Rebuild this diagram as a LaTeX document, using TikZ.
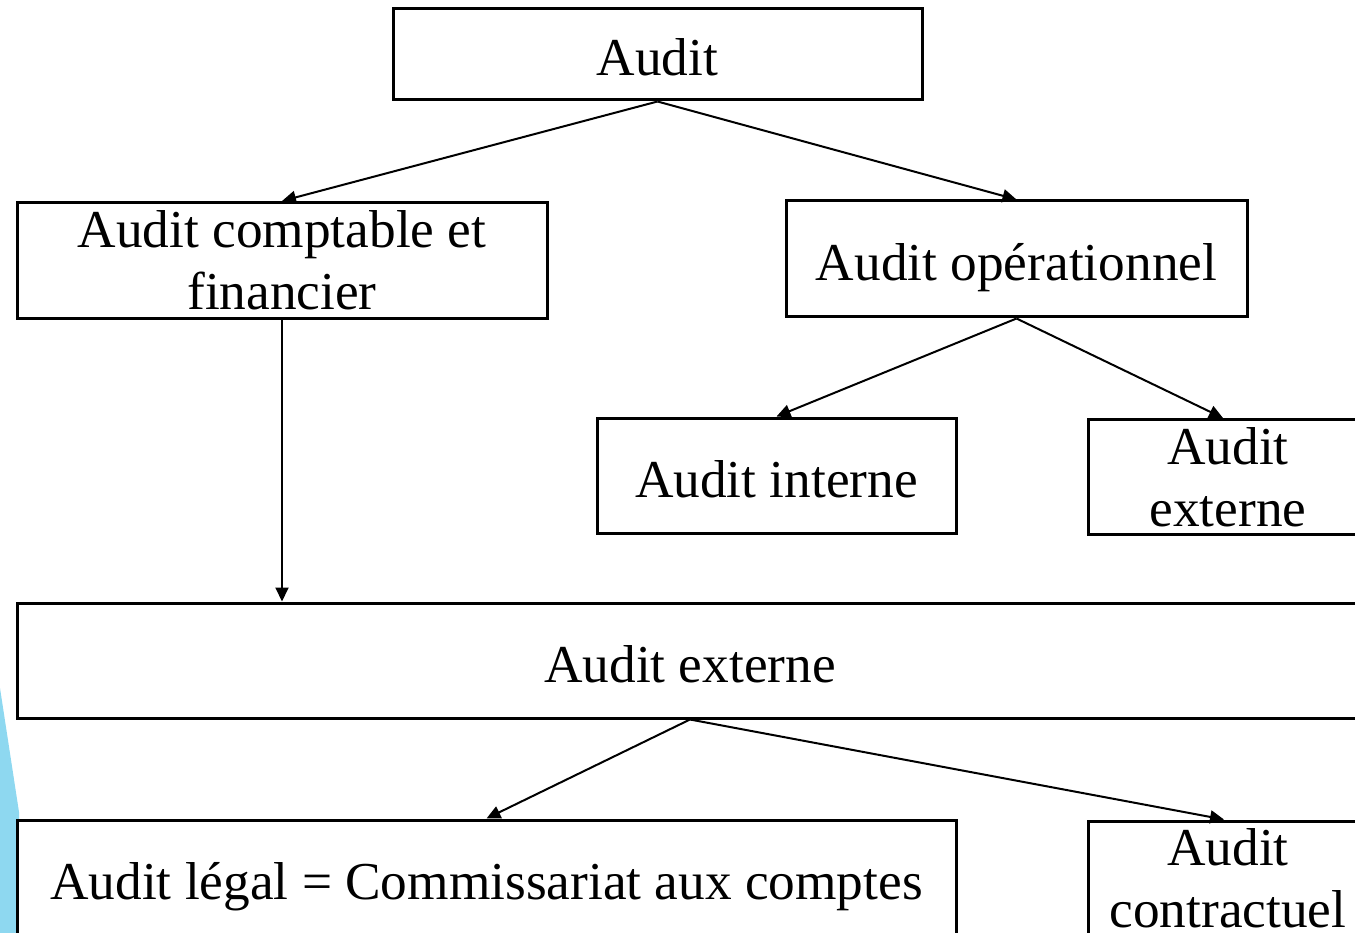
\documentclass[tikz,border=0pt]{standalone}
\usepackage{fontspec}
\setmainfont{Liberation Serif}
\usetikzlibrary{arrows.meta}
\definecolor{deco}{RGB}{142,216,240}
\begin{document}
\begin{tikzpicture}[x=1pt,y=-1pt,
  box/.style={draw=black, line width=3pt, fill=white, inner sep=0pt, align=center, font=\fontsize{53.3}{62}\selectfont},
  onebox/.style={box, text height=43pt, text depth=0pt},
  conn/.style={line width=2pt, -{Triangle[length=14pt,width=13pt]}}]
\useasboundingbox (0,0) rectangle (1355,933);
\clip (0,0) rectangle (1355,933);
\fill[deco] (0,688) -- (19,812) -- (19,933) -- (0,933) -- cycle;
\node[onebox, minimum width=529pt, minimum height=91pt] (audit) at (657.5,54.5) {Audit};
\node[box, minimum width=530pt, minimum height=116pt] (comp) at (282,260.5) {Audit comptable et\\financier};
\node[onebox, minimum width=461pt, minimum height=116pt] (oper) at (1016.5,259) {Audit opérationnel};
\node[onebox, minimum width=359pt, minimum height=115pt] (interne) at (776.5,475.5) {Audit interne};
\node[box, minimum width=280pt, minimum height=115pt] (extA) at (1228,477) {Audit\\externe};
\node[onebox, minimum width=1346pt, minimum height=115pt] (extB) at (690,660.5) {Audit externe};
\node[onebox, minimum width=939pt, minimum height=115pt] (legal) at (486.5,877.5) {Audit légal = Commissariat aux comptes};
\node[box, minimum width=280pt, minimum height=115pt] (contr) at (1228,878.5) {Audit\\contractuel};
\draw[conn] (audit.south) -- (comp.north);
\draw[conn] (audit.south) -- (oper.north);
\draw[conn] (comp.south) -- (comp.south |- extB.north);
\draw[conn] (oper.south) -- ([xshift=-5pt]extA.north);
\draw[conn] (oper.south) -- (interne.north);
\draw[conn] (extB.south) -- (legal.north);
\draw[conn] (extB.south) -- ([xshift=-4pt]contr.north);
\end{tikzpicture}
\end{document}
